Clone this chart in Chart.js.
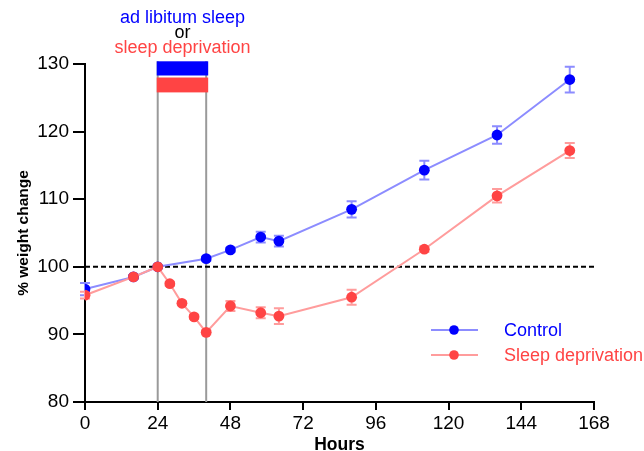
<!DOCTYPE html>
<html>
<head>
<meta charset="utf-8">
<script src="https://cdn.jsdelivr.net/npm/chart.js@4.4.1/dist/chart.umd.min.js"></script>
<style>
  html, body { margin: 0; padding: 0; background: #fff; }
</style>
</head>
<body>
<canvas id="chart" width="644" height="451"></canvas>
<script>
// data
var ctlHours = [0, 16, 24, 40, 48, 58, 64, 88, 112, 136, 160];
var ctlValues = [96.7, 98.5, 100, 101.2, 102.5, 104.4, 103.8, 108.5, 114.3, 119.5, 127.7];
var ctlErr = [0.9, 0.3, 0, 0.3, 0.3, 0.8, 0.8, 1.2, 1.4, 1.3, 1.9];

var sdHours = [0, 16, 24, 28, 32, 36, 40, 48, 58, 64, 88, 112, 136, 160];
var sdValues = [95.8, 98.5, 100, 97.5, 94.6, 92.6, 90.3, 94.2, 93.2, 92.7, 95.5, 102.6, 110.5, 117.2];
var sdErr = [0.5, 0.3, 0, 0.3, 0.3, 0.3, 0.3, 0.75, 0.8, 1.15, 1.1, 0.4, 1.0, 1.1];

var xTicks = [0, 24, 48, 72, 96, 120, 144, 168];
var yTicks = [80, 90, 100, 110, 120, 130];
var baseline = 100;
var treatWindow = [24, 40];          // hours of the treatment period
var ctlBar = [130.4, 128.3];         // y range of blue marker bar
var sdBar = [128.0, 125.8];          // y range of red marker bar
var labels = ['ad libitum sleep', 'or', 'sleep deprivation'];
var seriesNames = ['Control', 'Sleep deprivation'];

var BLUE = '#0000ff', BLUE_L = '#8c8cff';
var RED = '#ff4444', RED_L = '#ff9c9c';

function pts(xs, ys) {
    return xs.map(function(x, i) { return { x: x, y: ys[i] }; });
}

var FONT = "'Liberation Sans', Arial, sans-serif";
Chart.defaults.font.family = FONT;
Chart.defaults.font.size = 16;
Chart.defaults.color = '#000';

var extras = {
    id: 'extras',
    beforeDatasetsDraw: function(chart) {
        var c = chart.ctx, xs = chart.scales.x, ys = chart.scales.y;
        c.save();
        // grey lines marking the window
        c.strokeStyle = '#9a9a9a';
        c.lineWidth = 2;
        treatWindow.forEach(function(h) {
            var px = xs.getPixelForValue(h);
            c.beginPath();
            c.moveTo(px, ys.getPixelForValue(ctlBar[0]));
            c.lineTo(px, ys.getPixelForValue(80));
            c.stroke();
        });
        // error bars
        function errs(hours, vals, err, col) {
            c.strokeStyle = col;
            c.lineWidth = 2;
            hours.forEach(function(h, i) {
                if (!err[i]) return;
                var px = xs.getPixelForValue(h);
                var top = ys.getPixelForValue(vals[i] + err[i]);
                var bot = ys.getPixelForValue(vals[i] - err[i]);
                c.beginPath();
                c.moveTo(px, top); c.lineTo(px, bot);
                c.moveTo(px - 5, top); c.lineTo(px + 5, top);
                c.moveTo(px - 5, bot); c.lineTo(px + 5, bot);
                c.stroke();
            });
        }
        errs(ctlHours, ctlValues, ctlErr, BLUE_L);
        errs(sdHours, sdValues, sdErr, RED_L);
        c.restore();
    },
    afterDraw: function(chart) {
        var c = chart.ctx, xs = chart.scales.x, ys = chart.scales.y, a = chart.chartArea;
        c.save();
        var x0 = xs.getPixelForValue(treatWindow[0]);
        var x1 = xs.getPixelForValue(treatWindow[1]) + 1;
        c.fillStyle = BLUE;
        c.fillRect(x0 - 1, ys.getPixelForValue(ctlBar[0]), x1 - x0 + 2, ys.getPixelForValue(ctlBar[1]) - ys.getPixelForValue(ctlBar[0]));
        c.fillStyle = RED;
        c.fillRect(x0 - 1, ys.getPixelForValue(sdBar[0]), x1 - x0 + 2, ys.getPixelForValue(sdBar[1]) - ys.getPixelForValue(sdBar[0]));

        // labels above the window
        var mid = (x0 + x1) / 2;
        c.font = '18px ' + FONT;
        c.textAlign = 'center';
        c.textBaseline = 'middle';
        c.fillStyle = BLUE;
        c.fillText(labels[0], mid, 18);
        c.fillStyle = '#000';
        c.fillText(labels[1], mid, 33);
        c.fillStyle = RED;
        c.fillText(labels[2], mid, 48);

        // legend
        var lx = a.right - 163, rows = [[BLUE_L, BLUE], [RED_L, RED]];
        rows.forEach(function(r, i) {
            var ly = 330 + i * 25;
            c.strokeStyle = r[0];
            c.lineWidth = 2;
            c.beginPath();
            c.moveTo(lx, ly); c.lineTo(lx + 47, ly);
            c.stroke();
            c.fillStyle = r[1];
            c.beginPath();
            c.arc(lx + 23, ly, 4.8, 0, Math.PI * 2);
            c.fill();
            c.textAlign = 'left';
            c.fillText(seriesNames[i], lx + 73, ly + 1);
        });
        c.restore();
    }
};

new Chart(document.getElementById('chart'), {
    type: 'line',
    data: {
        datasets: [
            {
                label: seriesNames[1],
                data: pts(sdHours, sdValues),
                borderColor: RED_L, backgroundColor: RED,
                pointBackgroundColor: RED, pointBorderWidth: 0,
                pointRadius: 5.4, borderWidth: 2, order: 1
            },
            {
                label: seriesNames[0],
                data: pts(ctlHours, ctlValues),
                borderColor: BLUE_L, backgroundColor: BLUE,
                pointBackgroundColor: BLUE, pointBorderWidth: 0,
                pointRadius: 5.4, borderWidth: 2, order: 2
            },
            {
                label: 'baseline',
                data: [{ x: xTicks[0], y: baseline }, { x: xTicks[xTicks.length - 1], y: baseline }],
                borderColor: '#000', borderWidth: 2, borderDash: [5, 3],
                pointRadius: 0, order: 3
            }
        ]
    },
    options: {
        responsive: false,
        animation: false,
        devicePixelRatio: 1,
        layout: { padding: { top: 64, right: 50, left: 0, bottom: 0 } },
        plugins: { legend: { display: false }, tooltip: { enabled: false } },
        scales: {
            x: {
                type: 'linear',
                min: xTicks[0], max: xTicks[xTicks.length - 1],
                afterBuildTicks: function(s) { s.ticks = xTicks.map(function(v) { return { value: v }; }); },
                afterFit: function(s) { s.height = 49; },
                border: { display: true, color: '#000', width: 2 },
                grid: { drawOnChartArea: false, drawTicks: true, tickLength: 8, color: '#000', lineWidth: 2 },
                ticks: { padding: 2, font: { size: 19 }, color: '#000' },
                title: { display: true, text: 'Hours', font: { size: 17.5, weight: 'bold', lineHeight: 0.7 }, padding: { top: 0, bottom: 0 } }
            },
            y: {
                min: yTicks[0], max: yTicks[yTicks.length - 1],
                afterBuildTicks: function(s) { s.ticks = yTicks.map(function(v) { return { value: v }; }); },
                afterFit: function(s) { s.width = 85; },
                border: { display: true, color: '#000', width: 2 },
                grid: { drawOnChartArea: false, drawTicks: true, tickLength: 12, color: '#000', lineWidth: 2 },
                ticks: { padding: 4, font: { size: 19 }, color: '#000' },
                title: { display: true, text: '% weight change', font: { size: 15.5, weight: 'bold' }, padding: { top: 14, bottom: 14 } }
            }
        }
    },
    plugins: [extras]
});
</script>
</body>
</html>
